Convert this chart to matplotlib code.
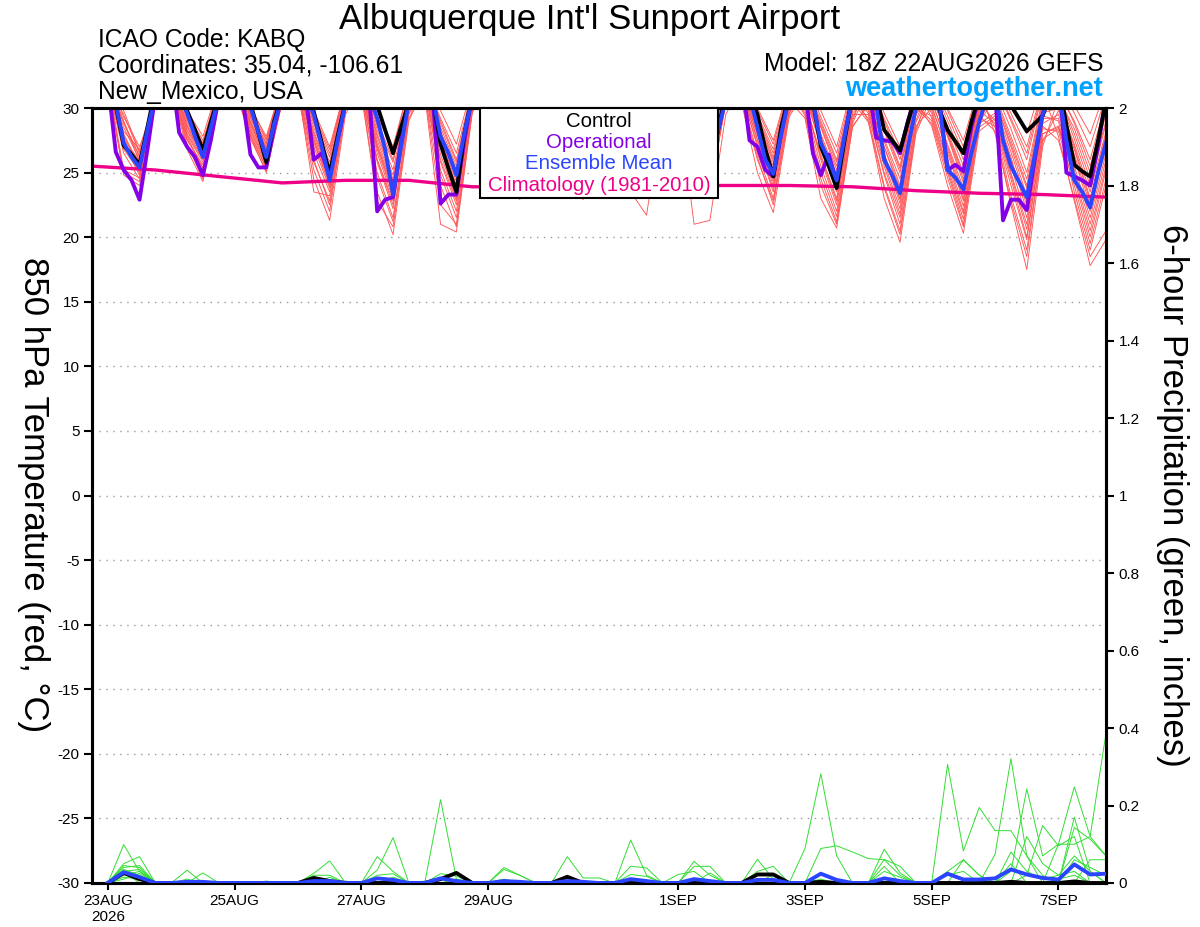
import numpy as np
import matplotlib
matplotlib.use("Agg")
import matplotlib.pyplot as plt
from matplotlib.patches import Rectangle

plt.rcParams['font.family'] = ['Liberation Sans', 'DejaVu Sans']

# ---------------- DATA ----------------
# time axis: hours after 18Z 22AUG2026 (model run); x range 0..384 h
day_tick_hours = [6, 54, 102, 150, 222, 270, 318, 366]
day_tick_labels = ["23AUG\n2026", "25AUG", "27AUG", "29AUG", "1SEP", "3SEP", "5SEP", "7SEP"]

# 3-hourly deterministic 850 hPa temperature (deg C); one row per day: 00Z,03Z,06Z,09Z,12Z,15Z,18Z,21Z
control_t = [
    [32.0, 30.2, 27.1, 26.4, 25.6, 28.5, 31.5, 33.0],
    [33.0, 31.5, 29.8, 28.3, 26.7, 28.9, 31.0, 33.0],
    [33.0, 31.5, 30.4, 28.1, 25.8, 29.0, 31.0, 33.0],
    [33.0, 31.5, 29.7, 27.3, 24.9, 27.8, 30.4, 33.0],
    [33.0, 31.5, 30.2, 28.3, 26.5, 28.5, 30.4, 33.0],
    [33.0, 30.8, 27.2, 25.3, 23.5, 28.0, 31.0, 33.0],
    [33.0, 31.5, 29.5, 27.5, 25.8, 28.5, 31.0, 33.0],
    [33.0, 31.5, 29.2, 27.5, 26.2, 28.6, 31.0, 33.0],
    [33.0, 31.5, 29.5, 27.3, 25.6, 28.3, 31.0, 33.0],
    [33.0, 31.5, 29.6, 27.5, 25.4, 28.2, 31.0, 33.0],
    [33.0, 31.0, 29.5, 26.8, 24.7, 28.5, 31.0, 33.0],
    [32.5, 30.5, 27.0, 25.5, 23.8, 27.5, 31.0, 33.0],
    [32.5, 31.0, 28.3, 27.5, 26.7, 28.9, 31.0, 32.5],
    [31.5, 29.8, 28.3, 27.4, 26.5, 28.9, 31.0, 32.5],
    [32.0, 31.2, 30.2, 29.2, 28.2, 28.8, 29.4, 31.0],
    [32.0, 28.7, 25.6, 25.1, 24.7, 27.5, 30.5],
]
operational_t = [
    [32.0, 26.6, 25.2, 24.4, 22.9, 26.8, 31.0, 33.0],
    [33.0, 28.1, 27.0, 26.2, 24.8, 27.5, 30.8, 33.0],
    [33.0, 30.8, 26.4, 25.4, 25.4, 28.5, 31.0, 33.0],
    [33.0, 30.8, 26.0, 26.5, 24.7, 27.5, 30.5, 33.0],
    [33.0, 31.0, 22.0, 22.9, 23.1, 27.3, 31.0, 33.0],
    [33.0, 31.0, 22.6, 23.3, 23.3, 27.5, 31.0, 33.0],
    [33.0, 31.0, 28.0, 27.0, 26.0, 28.5, 31.0, 33.0],
    [33.0, 31.0, 28.5, 27.2, 26.5, 28.5, 31.0, 33.0],
    [33.0, 31.0, 28.5, 26.8, 25.5, 28.0, 31.0, 33.0],
    [33.0, 31.0, 28.6, 27.0, 25.8, 28.3, 31.0, 33.0],
    [32.5, 27.5, 27.0, 25.2, 24.7, 28.0, 31.0, 33.0],
    [31.5, 26.5, 24.8, 26.4, 24.3, 27.8, 31.0, 33.0],
    [32.0, 27.7, 27.5, 27.4, 26.5, 29.0, 31.0, 33.0],
    [32.0, 30.5, 25.2, 25.6, 25.1, 28.5, 31.0, 33.0],
    [31.5, 21.3, 22.9, 22.9, 22.1, 26.0, 29.5, 31.5],
    [33.0, 25.0, 24.7, 24.4, 24.0, 27.0, 31.0],
]
mean_t = [
    [32.0, 30.3, 27.3, 26.2, 25.4, 28.3, 31.0, 32.5],
    [32.5, 31.0, 29.6, 27.8, 26.2, 28.5, 30.8, 32.5],
    [32.5, 31.0, 30.1, 28.1, 26.2, 28.8, 30.8, 32.5],
    [32.5, 31.0, 29.5, 27.0, 24.4, 27.5, 30.3, 32.5],
    [32.5, 31.0, 29.2, 26.8, 23.3, 27.0, 30.5, 32.5],
    [32.5, 30.8, 27.8, 26.5, 24.8, 28.0, 30.8, 32.5],
    [32.5, 31.0, 29.0, 27.3, 25.6, 28.2, 30.8, 32.5],
    [32.5, 31.0, 29.0, 27.5, 26.0, 28.4, 30.8, 32.5],
    [32.5, 31.0, 28.8, 27.0, 25.3, 28.0, 30.8, 32.5],
    [32.5, 31.0, 28.8, 27.0, 25.2, 28.2, 30.6, 32.5],
    [32.5, 31.0, 28.5, 26.0, 24.9, 28.0, 30.8, 32.5],
    [32.0, 30.5, 27.3, 26.0, 24.4, 27.8, 30.8, 32.0],
    [31.5, 30.2, 26.0, 24.8, 23.4, 27.0, 30.0, 31.5],
    [31.5, 30.2, 25.2, 24.6, 23.7, 26.5, 28.9, 31.0],
    [31.5, 27.5, 25.5, 24.3, 23.1, 26.3, 29.5, 31.0],
    [31.5, 27.5, 24.4, 23.5, 22.3, 25.0, 27.3],
]

# climatology (1981-2010), daily from 18Z 22AUG
climatology_t = [25.5, 25.2, 24.7, 24.2, 24.4, 24.4, 23.9, 23.9, 24.0,
                 24.0, 24.0, 24.0, 23.9, 23.6, 23.4, 23.3, 23.1]

# ensemble members (6-hourly); rows = days 23AUG..7SEP, columns = members 1..20
members_00z = [
    [31.5, 32.0, 31.8, 32.2, 31.6, 31.9, 32.4, 31.7, 32.1, 31.5, 32.3, 31.8, 32.0, 31.6, 32.2, 31.9, 31.7, 32.1, 31.8, 32.0],
    [32.2, 31.8, 32.5, 31.6, 32.0, 32.8, 32.3, 31.7, 32.4, 32.6, 31.9, 32.1, 31.5, 32.7, 32.0, 31.8, 32.5, 32.9, 31.7, 32.2],
    [32.0, 32.6, 31.7, 32.3, 32.8, 31.9, 31.6, 32.4, 32.7, 32.1, 31.8, 32.5, 32.2, 31.6, 32.4, 32.6, 31.9, 32.0, 32.9, 31.5],
    [31.8, 31.4, 32.2, 32.6, 31.5, 32.0, 31.2, 32.1, 32.5, 31.7, 31.3, 31.9, 32.4, 32.7, 31.6, 32.0, 31.4, 32.5, 31.8, 32.2],
    [31.5, 32.0, 31.0, 31.8, 32.4, 31.3, 31.9, 32.6, 31.4, 31.6, 32.2, 31.1, 32.1, 31.8, 31.2, 32.5, 31.5, 31.9, 32.7, 31.7],
    [31.9, 31.6, 31.7, 31.5, 32.2, 31.6, 31.0, 32.3, 31.9, 31.3, 32.6, 31.6, 31.2, 32.1, 31.8, 31.4, 32.3, 31.1, 31.7, 31.9],
    [31.8, 32.1, 32.0, 31.6, 32.5, 31.9, 32.2, 31.3, 32.3, 31.7, 32.1, 32.6, 31.8, 32.4, 31.9, 31.5, 32.2, 32.7, 31.8, 32.0],
    [32.2, 31.8, 32.1, 32.5, 31.7, 31.9, 32.4, 31.8, 31.4, 32.3, 32.0, 31.7, 32.7, 32.1, 31.6, 32.4, 31.9, 32.0, 32.6, 32.2],
    [32.0, 32.4, 31.6, 31.9, 32.2, 32.6, 31.8, 32.1, 31.5, 31.2, 32.5, 32.0, 31.7, 32.7, 32.3, 31.8, 32.4, 31.6, 32.1, 32.8],
    [31.8, 32.1, 32.5, 31.5, 32.0, 30.8, 32.3, 31.7, 32.6, 32.2, 31.6, 32.4, 32.0, 31.7, 32.7, 31.4, 32.2, 32.3, 31.8, 32.8],
    [31.4, 31.9, 30.6, 32.2, 31.2, 31.8, 32.5, 30.4, 31.6, 32.1, 30.8, 31.9, 32.6, 31.3, 30.5, 32.2, 31.7, 31.0, 32.4, 31.5],
    [30.6, 31.2, 32.0, 29.6, 31.0, 32.3, 30.2, 31.4, 29.2, 31.8, 30.5, 32.5, 29.8, 31.3, 32.1, 30.4, 31.9, 31.0, 29.4, 31.2],
    [29.5, 30.6, 29.0, 31.6, 30.0, 31.0, 32.0, 29.2, 30.4, 29.8, 31.8, 30.3, 32.3, 28.9, 31.2, 30.8, 29.6, 32.0, 30.2, 31.5],
    [30.0, 29.0, 31.0, 29.8, 31.8, 28.6, 30.5, 31.4, 29.4, 32.2, 30.2, 30.8, 29.2, 31.9, 30.6, 28.8, 31.3, 29.6, 30.9, 32.0],
    [28.8, 29.6, 31.0, 28.2, 31.8, 29.2, 30.5, 28.5, 31.3, 29.9, 32.0, 29.0, 30.8, 28.0, 30.6, 29.4, 31.9, 28.6, 32.3, 30.2],
    [28.5, 29.0, 30.6, 30.8, 27.8, 29.5, 31.2, 28.4, 30.9, 29.2, 31.8, 28.2, 30.4, 29.8, 32.2, 27.5, 31.0, 28.6, 31.5, 30.0],
]
members_06z = [
    [27.5, 28.8, 26.5, 29.0, 28.2, 24.8, 27.9, 29.5, 27.0, 27.2, 29.3, 26.8, 28.5, 25.0, 28.0, 29.8, 27.6, 25.2, 28.9, 27.3],
    [28.5, 27.8, 29.4, 28.0, 27.2, 29.8, 28.9, 27.5, 28.6, 29.6, 27.0, 28.3, 26.8, 29.1, 28.2, 27.9, 29.3, 29.5, 27.6, 28.7],
    [28.8, 29.5, 28.0, 29.2, 30.0, 28.3, 27.6, 29.4, 29.8, 28.7, 28.2, 29.6, 28.9, 27.9, 29.3, 29.7, 28.5, 29.0, 30.2, 27.8],
    [27.5, 26.0, 28.8, 29.5, 23.5, 27.8, 24.5, 28.2, 29.2, 27.0, 25.2, 27.6, 28.9, 29.8, 26.5, 28.0, 25.8, 29.4, 27.3, 28.5],
    [26.0, 27.8, 23.5, 27.0, 28.6, 25.0, 27.2, 29.4, 25.8, 26.5, 28.3, 22.8, 28.0, 27.0, 24.6, 29.0, 26.0, 27.5, 29.8, 26.8],
    [28.2, 24.8, 27.5, 26.0, 29.2, 27.0, 21.0, 28.8, 27.8, 25.2, 29.8, 26.4, 22.5, 28.5, 27.6, 25.8, 29.0, 24.0, 27.0, 28.0],
    [27.8, 28.9, 28.2, 27.0, 29.6, 28.0, 28.6, 25.5, 29.2, 27.4, 28.8, 30.0, 27.5, 29.5, 28.3, 26.8, 29.0, 29.8, 27.9, 28.5],
    [29.0, 27.8, 28.9, 29.8, 27.0, 28.2, 29.5, 27.6, 24.5, 29.2, 28.5, 27.4, 30.0, 28.8, 27.2, 29.4, 28.0, 28.4, 29.7, 29.1],
    [28.3, 29.4, 27.2, 28.0, 29.0, 29.9, 27.6, 28.6, 26.8, 23.5, 29.6, 28.4, 27.3, 29.8, 28.9, 27.8, 29.2, 27.0, 28.7, 30.0],
    [28.0, 28.7, 29.5, 27.0, 28.2, 21.0, 29.2, 27.8, 29.8, 28.9, 27.2, 29.4, 28.5, 27.5, 30.0, 26.8, 28.8, 29.0, 27.9, 30.2],
    [27.5, 28.6, 26.2, 29.3, 27.0, 28.2, 29.8, 25.0, 27.9, 29.0, 26.5, 28.8, 30.0, 27.6, 26.0, 29.2, 28.4, 27.2, 29.5, 28.0],
    [26.0, 27.5, 28.8, 24.5, 27.0, 29.3, 25.5, 28.0, 23.0, 28.5, 26.4, 29.8, 25.0, 27.8, 29.0, 26.2, 28.6, 27.2, 24.0, 27.6],
    [24.8, 27.0, 23.0, 28.2, 25.8, 27.6, 29.2, 24.0, 26.5, 25.5, 28.6, 26.2, 29.6, 23.8, 27.4, 27.0, 25.0, 29.0, 26.4, 28.4],
    [26.8, 25.0, 28.0, 26.0, 29.0, 24.0, 27.2, 28.6, 25.4, 30.0, 26.5, 27.8, 25.2, 29.4, 27.0, 24.6, 28.2, 25.8, 27.9, 29.8],
    [24.5, 26.0, 27.8, 22.5, 29.0, 25.5, 27.0, 23.2, 28.4, 26.2, 29.6, 24.8, 27.5, 22.8, 27.2, 25.0, 29.2, 24.0, 30.2, 26.6],
    [25.5, 23.5, 27.0, 28.4, 22.8, 26.2, 29.0, 24.8, 27.6, 25.2, 29.6, 24.0, 27.2, 26.4, 30.2, 23.0, 28.0, 24.5, 28.8, 26.8],
]
members_12z = [
    [25.0, 26.2, 24.5, 25.8, 26.8, 24.0, 25.3, 26.5, 25.6, 24.8, 27.0, 25.1, 26.0, 24.3, 25.5, 26.6, 25.9, 24.6, 26.3, 25.2],
    [26.5, 25.3, 27.2, 26.0, 24.5, 27.8, 26.8, 25.6, 26.2, 27.5, 25.0, 26.4, 24.3, 27.0, 26.1, 25.8, 26.9, 27.3, 25.4, 26.6],
    [26.0, 27.3, 25.4, 26.6, 27.8, 25.8, 25.1, 26.9, 27.5, 26.2, 25.6, 27.0, 26.4, 25.3, 26.8, 27.2, 25.9, 26.3, 27.6, 25.0],
    [24.0, 22.5, 25.5, 26.8, 23.2, 24.6, 21.3, 25.0, 26.2, 23.8, 22.0, 24.3, 25.8, 27.0, 23.5, 24.9, 22.8, 26.5, 24.1, 25.3],
    [22.8, 24.5, 20.2, 23.5, 25.8, 21.5, 24.0, 26.8, 22.2, 23.0, 25.2, 20.8, 24.8, 23.8, 21.2, 26.0, 22.5, 24.2, 27.0, 23.3],
    [25.2, 21.5, 24.0, 22.8, 26.5, 23.5, 20.4, 25.8, 24.6, 22.0, 27.2, 23.0, 21.0, 25.5, 24.3, 22.5, 26.0, 20.8, 23.8, 24.9],
    [24.5, 26.0, 25.2, 23.8, 27.0, 24.8, 25.6, 22.9, 26.5, 24.0, 25.9, 27.5, 24.2, 26.8, 25.0, 23.5, 26.2, 27.2, 24.6, 25.4],
    [26.0, 24.5, 25.8, 27.2, 23.6, 25.0, 26.8, 24.2, 22.9, 26.4, 25.3, 24.0, 27.5, 25.6, 23.8, 26.6, 24.8, 25.2, 27.0, 26.2],
    [25.0, 26.5, 23.8, 24.6, 26.0, 27.3, 24.2, 25.5, 23.5, 21.7, 26.8, 25.2, 24.0, 27.0, 25.8, 24.4, 26.2, 23.6, 25.6, 27.5],
    [24.8, 25.5, 26.8, 23.5, 25.0, 21.3, 26.2, 24.4, 27.0, 25.8, 23.8, 26.5, 25.2, 24.0, 27.3, 23.6, 25.6, 26.0, 24.6, 27.5],
    [24.0, 25.5, 22.5, 26.5, 23.8, 25.0, 27.2, 21.9, 24.6, 26.0, 23.0, 25.8, 27.5, 24.3, 22.8, 26.2, 25.2, 23.5, 26.8, 24.8],
    [22.5, 24.0, 25.8, 21.2, 23.5, 26.5, 22.0, 24.8, 20.7, 25.2, 23.0, 27.0, 21.6, 24.4, 26.0, 22.8, 25.5, 23.8, 21.0, 24.2],
    [21.0, 23.5, 19.6, 25.0, 22.2, 24.5, 26.5, 20.5, 23.0, 21.8, 25.5, 22.6, 27.0, 20.2, 24.0, 23.8, 21.5, 26.0, 22.9, 25.3],
    [23.0, 21.0, 24.8, 22.4, 26.0, 20.3, 23.8, 25.5, 21.8, 27.5, 22.8, 24.2, 21.4, 26.5, 23.4, 20.8, 25.0, 22.0, 24.5, 27.0],
    [20.0, 22.5, 24.5, 17.5, 26.0, 21.5, 23.2, 19.0, 25.0, 22.0, 27.0, 20.6, 24.0, 18.5, 23.8, 21.0, 26.5, 19.8, 28.0, 22.8],
    [21.5, 19.0, 23.0, 25.0, 17.8, 22.0, 26.0, 20.5, 24.0, 21.0, 27.0, 19.5, 23.5, 22.5, 28.0, 18.5, 24.5, 20.0, 25.5, 22.8],
]
members_18z = [
    [31.0, 30.5, 31.5, 30.2, 31.0, 30.8, 31.2, 30.4, 31.6, 30.9, 30.3, 31.4, 30.7, 31.8, 30.6, 30.1, 31.3, 30.8, 30.5, 31.1],
    [31.2, 30.6, 31.5, 30.4, 31.0, 31.8, 30.9, 30.3, 31.4, 31.1, 30.5, 31.6, 30.2, 31.3, 30.8, 30.7, 31.0, 31.7, 30.4, 31.2],
    [31.0, 31.5, 30.6, 31.2, 31.8, 30.8, 30.4, 31.3, 31.6, 30.9, 30.7, 31.4, 31.1, 30.5, 31.2, 31.7, 30.8, 31.0, 31.9, 30.5],
    [30.5, 29.8, 31.2, 31.5, 30.2, 30.8, 29.5, 31.0, 31.4, 30.4, 29.9, 30.7, 31.3, 31.6, 30.3, 31.0, 30.0, 31.5, 30.6, 31.1],
    [29.8, 30.6, 29.0, 30.2, 31.2, 29.5, 30.5, 31.5, 29.9, 30.1, 31.0, 29.2, 30.8, 30.4, 29.6, 31.3, 30.0, 30.7, 31.6, 30.3],
    [31.0, 30.0, 30.6, 30.3, 31.4, 30.5, 29.6, 31.2, 30.8, 29.9, 31.7, 30.4, 29.8, 31.1, 30.7, 30.2, 31.3, 29.7, 30.6, 31.0],
    [31.0, 31.4, 31.2, 30.6, 31.8, 31.0, 31.3, 30.2, 31.6, 30.8, 31.4, 32.0, 30.7, 31.7, 31.1, 30.5, 31.5, 31.9, 30.9, 31.2],
    [31.4, 30.8, 31.3, 31.8, 30.6, 31.0, 31.6, 30.8, 30.2, 31.5, 31.1, 30.7, 32.0, 31.2, 30.5, 31.6, 31.0, 31.1, 31.8, 31.4],
    [31.0, 31.6, 30.5, 30.9, 31.3, 31.8, 30.7, 31.2, 30.4, 29.8, 31.7, 31.0, 30.6, 31.9, 31.4, 30.8, 31.5, 30.5, 31.2, 32.0],
    [30.8, 31.2, 31.6, 30.4, 31.0, 29.5, 31.4, 30.7, 31.8, 31.3, 30.5, 31.5, 31.1, 30.6, 31.9, 30.3, 31.2, 31.4, 30.8, 32.0],
    [30.5, 31.0, 29.6, 31.3, 30.2, 30.8, 31.6, 29.3, 30.6, 31.2, 29.8, 31.0, 31.8, 30.4, 29.5, 31.4, 30.9, 30.0, 31.5, 30.7],
    [29.5, 30.4, 31.2, 28.8, 30.0, 31.5, 29.2, 30.6, 28.5, 31.0, 29.8, 31.8, 29.0, 30.5, 31.3, 29.6, 31.0, 30.2, 28.6, 30.4],
    [28.6, 30.2, 28.0, 31.0, 29.4, 30.5, 31.5, 28.4, 29.9, 29.0, 31.2, 29.6, 31.8, 28.2, 30.4, 30.0, 28.9, 31.4, 29.7, 30.8],
    [29.8, 28.8, 30.6, 29.4, 31.2, 28.2, 30.0, 31.0, 29.0, 31.8, 29.6, 30.4, 28.9, 31.4, 30.2, 28.5, 30.8, 29.2, 30.5, 31.6],
    [28.0, 29.4, 30.6, 27.0, 31.2, 28.8, 30.0, 27.6, 30.8, 29.2, 31.6, 28.4, 30.4, 27.4, 30.2, 28.6, 31.4, 28.0, 32.0, 29.6],
    [26.5, 24.0, 28.0, 29.5, 19.8, 27.2, 30.5, 25.5, 28.8, 26.0, 31.0, 24.5, 28.2, 27.5, 31.5, 20.5, 29.0, 25.2, 30.0, 27.8],
]

# 6-hour precipitation (inches): (valid hour, amount); all other times are 0
control_p = [(12, 0.026), (18, 0.010), (84, 0.013), (90, 0.005), (132, 0.010), (138, 0.026),
             (180, 0.016), (252, 0.022), (258, 0.022), (276, 0.003), (348, 0.003), (372, 0.004)]
mean_p = [(12, 0.028), (18, 0.015), (36, 0.003), (42, 0.003), (84, 0.005), (90, 0.005),
          (108, 0.012), (114, 0.008), (132, 0.012), (138, 0.005), (156, 0.005), (162, 0.003),
          (180, 0.005), (186, 0.003), (204, 0.010), (210, 0.005), (228, 0.010), (234, 0.005),
          (252, 0.008), (258, 0.008), (276, 0.024), (282, 0.008), (300, 0.012), (306, 0.005),
          (324, 0.024), (330, 0.009), (336, 0.009), (342, 0.012), (348, 0.035), (354, 0.022),
          (360, 0.013), (366, 0.009), (372, 0.048), (378, 0.022), (384, 0.024)]
members_p = [
    [(12, 0.099), (18, 0.030), (138, 0.010), (330, 0.060), (336, 0.020), (348, 0.050)],
    [(12, 0.050), (18, 0.068), (126, 0.005), (222, 0.022), (228, 0.030), (324, 0.306), (330, 0.083),
     (336, 0.195), (342, 0.135), (348, 0.135), (354, 0.070)],
    [(12, 0.045), (18, 0.040), (84, 0.025), (90, 0.057), (258, 0.022)],
    [(12, 0.040), (18, 0.045), (36, 0.033), (180, 0.015), (276, 0.010), (324, 0.030), (330, 0.060), (336, 0.020)],
    [(12, 0.035), (18, 0.020), (108, 0.068), (114, 0.030), (300, 0.030), (306, 0.015)],
    [(12, 0.030), (66, 0.005), (204, 0.111), (210, 0.020), (342, 0.074), (348, 0.321), (354, 0.070), (360, 0.020)],
    [(12, 0.025), (18, 0.015), (96, 0.005), (156, 0.040), (162, 0.020), (300, 0.061), (306, 0.043),
     (378, 0.060), (384, 0.060)],
    [(12, 0.020), (18, 0.030), (42, 0.026), (228, 0.056), (234, 0.020), (372, 0.143), (378, 0.113), (384, 0.070)],
    [(12, 0.015), (18, 0.010), (84, 0.020), (90, 0.020), (270, 0.089), (276, 0.282), (282, 0.070)],
    [(12, 0.010), (18, 0.025), (108, 0.033), (114, 0.117), (234, 0.026), (354, 0.120), (360, 0.050),
     (366, 0.020), (372, 0.030)],
    [(12, 0.030), (18, 0.035), (156, 0.010), (300, 0.087), (306, 0.026), (372, 0.170), (378, 0.030)],
    [(36, 0.010), (204, 0.043), (210, 0.039), (348, 0.030), (354, 0.243), (360, 0.070), (366, 0.100),
     (372, 0.100), (378, 0.120), (384, 0.070)],
    [(60, 0.004), (132, 0.215), (138, 0.010), (300, 0.043), (366, 0.010), (372, 0.020)],
    [(180, 0.068), (186, 0.013), (192, 0.013), (348, 0.080), (354, 0.030), (360, 0.010), (366, 0.020),
     (372, 0.070), (378, 0.030)],
    [(90, 0.015), (252, 0.061), (258, 0.010)],
    [(108, 0.020), (114, 0.024), (228, 0.043), (234, 0.043), (324, 0.020), (330, 0.030)],
    [(114, 0.015), (252, 0.030), (258, 0.043), (354, 0.020), (360, 0.148), (366, 0.096), (372, 0.120)],
    [(132, 0.024), (138, 0.018), (372, 0.060), (378, 0.040), (384, 0.020)],
    [(156, 0.035), (162, 0.020), (276, 0.089), (282, 0.096), (288, 0.080), (294, 0.063), (300, 0.060), (306, 0.020)],
    [(204, 0.022), (210, 0.017), (366, 0.100), (372, 0.248), (378, 0.120), (384, 0.387)],
]

# ---------------- BUILD SERIES ----------------
hours3 = np.arange(6, 385, 3)
hours6 = np.arange(6, 385, 6)
clim_hours = np.arange(0, 385, 24)

def flat(rows):
    return np.array([v for r in rows for v in r], dtype=float)

ctl = flat(control_t)
opr = flat(operational_t)
ens = flat(mean_t)

mem_t = np.stack([np.array(members_00z), np.array(members_06z),
                  np.array(members_12z), np.array(members_18z)], axis=1)  # (16,4,20)
mem_t = mem_t.reshape(64, -1)

def precip_series(events):
    s = np.zeros(len(hours6))
    for h, v in events:
        s[(h - 6) // 6] = v
    return s

# ---------------- FIGURE ----------------
W, H = 1200, 927
fig = plt.figure(figsize=(W / 100, H / 100), dpi=100)
L, R, T, B = 92, 1106, 108, 883
ax = fig.add_axes([L / W, 1 - B / H, (R - L) / W, (B - T) / H])
ax2 = ax.twinx()

RED = '#ff5656'
GREEN = '#33dd33'
PURPLE = '#8400e6'
BLUE = '#2a44ff'
PINK = '#ee0088'

for m in range(mem_t.shape[1]):
    ax.plot(hours6, mem_t[:, m], color=RED, lw=0.65, zorder=2)
ax.plot(clim_hours, climatology_t, color=PINK, lw=2.4, zorder=3)
ax.plot(hours3, opr, color=PURPLE, lw=2.8, zorder=4)
ax.plot(hours3, ctl, color='black', lw=2.8, zorder=5)
ax.plot(hours3, ens, color=BLUE, lw=2.8, zorder=6)

for ev in members_p:
    ax2.plot(hours6, precip_series(ev), color=GREEN, lw=0.7, zorder=2)
ax2.plot(hours6, precip_series(control_p), color='black', lw=2.8, zorder=5)
ax2.plot(hours6, precip_series(mean_p), color=BLUE, lw=2.8, zorder=6)

ax.set_xlim(0, 384)
ax.set_ylim(-30, 30)
ax2.set_ylim(0, 2)

ax.set_yticks(np.arange(-30, 31, 5))
ax.set_yticklabels([f"{v:d}" for v in range(-30, 31, 5)])
ax2.set_yticks(np.arange(0, 2.01, 0.2))
ax2.set_yticklabels([f"{v:g}" for v in np.round(np.arange(0, 2.01, 0.2), 1)])
ax.set_xticks(day_tick_hours)
ax.set_xticklabels(day_tick_labels, linespacing=1.15)

ax.tick_params(axis='y', direction='out', length=6, width=1.5, labelsize=11, pad=3)
ax2.tick_params(axis='y', direction='out', length=6, width=1.5, labelsize=11, pad=3)
ax.tick_params(axis='x', direction='out', length=5, width=1.5, labelsize=11, pad=3)

ax.yaxis.grid(True, linestyle=(0, (1, 4)), color='#9a9a9a', lw=1.0)
ax.set_axisbelow(True)

for a in (ax, ax2):
    for s in a.spines.values():
        s.set_linewidth(2.2)

# legend box
lx0 = (480 - L) / (R - L)
lx1 = (718 - L) / (R - L)
ly0 = (B - 198) / (B - T)
ax2.add_patch(Rectangle((lx0, ly0), lx1 - lx0, 1 - ly0, transform=ax2.transAxes,
                        facecolor='white', edgecolor='black', lw=1.5, zorder=20, clip_on=False))
leg_items = [("Control", 'black', 121), ("Operational", PURPLE, 142),
             ("Ensemble Mean", BLUE, 163), ("Climatology (1981-2010)", PINK, 185)]
for txt, col, yp in leg_items:
    ax2.text((lx0 + lx1) / 2, (B - yp) / (B - T), txt, color=col, fontsize=14.7,
             ha='center', va='center', transform=ax2.transAxes, zorder=21)

# axis titles
fig.text(33 / W, 1 - 495 / H, "850 hPa Temperature (red, °C)", rotation=270,
         ha='center', va='center', fontsize=25)
fig.text(1172 / W, 1 - 495 / H, "6-hour Precipitation (green, inches)", rotation=270,
         ha='center', va='center', fontsize=25)

# header texts
fig.text(590 / W, 1 - 19 / H, "Albuquerque Int'l Sunport Airport", ha='center', va='center', fontsize=25)
fig.text(98 / W, 1 - 40 / H, "ICAO Code: KABQ", ha='left', va='center', fontsize=17.7)
fig.text(98 / W, 1 - 66 / H, "Coordinates: 35.04, -106.61", ha='left', va='center', fontsize=17.7)
fig.text(98 / W, 1 - 92 / H, "New_Mexico, USA", ha='left', va='center', fontsize=17.7)
fig.text(1103 / W, 1 - 64 / H, "Model: 18Z 22AUG2026 GEFS", ha='right', va='center', fontsize=17.7)
fig.text(1103 / W, 1 - 89 / H, "weathertogether.net", ha='right', va='center', fontsize=19.5,
         fontweight='bold', color='#00a0ff')

fig.savefig("out.png", dpi=100)
